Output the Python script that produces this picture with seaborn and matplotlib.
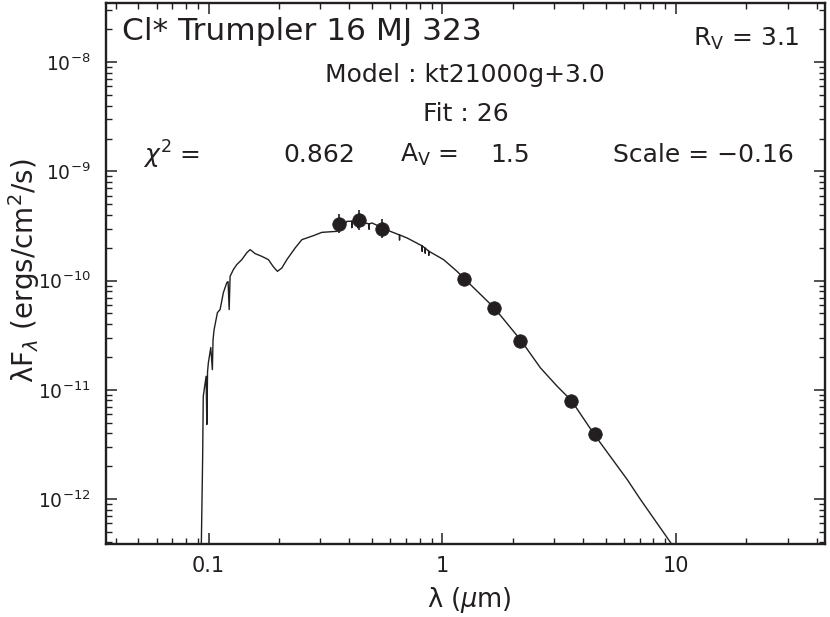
import matplotlib
matplotlib.use("Agg")
import matplotlib.pyplot as plt
import numpy as np
import pandas as pd
import seaborn as sns
from matplotlib.ticker import LogLocator, NullFormatter, FixedLocator, FixedFormatter

# ---------------- data ----------------
# model spectrum: wavelength (micron) and lambda*F_lambda (erg/cm^2/s)
model_wl = [0.0929, 0.0943, 0.0949, 0.0976, 0.0983, 0.0990, 0.0998, 0.1022,
            0.1038, 0.1045, 0.1056, 0.1091, 0.1120, 0.1157, 0.1197, 0.1212,
            0.1225, 0.1236, 0.1277, 0.1320, 0.1387, 0.1458, 0.1506, 0.1583,
            0.1690, 0.1803, 0.1895, 0.1971, 0.2059, 0.2162, 0.2347, 0.2508,
            0.2810, 0.3053, 0.3540, 0.3700, 0.3908, 0.4100, 0.4102, 0.4104,
            0.4340, 0.4342, 0.4344, 0.4453, 0.4860, 0.4862, 0.4864, 0.5000,
            0.5988, 0.6560, 0.6562, 0.6564, 0.7061, 0.8200, 0.8202, 0.8204,
            0.8450, 0.8452, 0.8454, 0.8601, 0.8750, 0.8752, 0.8754, 1.013,
            1.156, 1.242, 1.669, 2.173, 2.629, 3.100, 3.569, 4.491, 6.182,
            7.047, 9.472, 10.44]
model_flux = [2.8e-13, 2.30e-12, 8.73e-12, 1.33e-11, 4.81e-12, 1.47e-11,
              1.77e-11, 2.44e-11, 1.53e-11, 2.88e-11, 3.56e-11, 5.09e-11,
              5.43e-11, 7.77e-11, 9.59e-11, 9.79e-11, 5.43e-11, 1.094e-10,
              1.262e-10, 1.401e-10, 1.556e-10, 1.803e-10, 1.923e-10,
              1.766e-10, 1.668e-10, 1.556e-10, 1.335e-10, 1.216e-10,
              1.306e-10, 1.556e-10, 1.992e-10, 2.372e-10, 2.581e-10,
              2.767e-10, 2.827e-10, 2.95e-10, 3.49e-10, 3.50e-10, 3.05e-10,
              3.50e-10, 3.49e-10, 3.05e-10, 3.49e-10, 3.49e-10, 3.30e-10,
              2.95e-10, 3.30e-10, 3.374e-10, 2.827e-10, 2.62e-10, 2.35e-10,
              2.62e-10, 2.46e-10, 2.08e-10, 1.85e-10, 2.08e-10, 1.98e-10,
              1.78e-10, 1.98e-10, 1.92e-10, 1.86e-10, 1.70e-10, 1.86e-10,
              1.556e-10, 1.216e-10, 1.043e-10, 5.63e-11, 2.825e-11, 1.589e-11,
              1.078e-11, 7.97e-12, 3.84e-12, 1.508e-12, 9.89e-13, 4.0e-13,
              2.8e-13]

# photometry
phot_wl = [0.361, 0.439, 0.551, 1.236, 1.661, 2.146, 3.554, 4.505]
phot_flux = [3.33e-10, 3.60e-10, 3.00e-10, 1.04e-10, 5.66e-11, 2.82e-11,
             7.97e-12, 3.90e-12]
phot_err_dex = [0.09, 0.09, 0.09, 0.0, 0.0, 0.0, 0.0, 0.0]

x_ticks = [0.1, 1, 10]
x_tick_labels = ["0.1", "1", "10"]

# ---------------- figure ----------------
sns.set_theme(style="ticks")
plt.rcParams['font.family'] = ['DejaVu Sans']
plt.rcParams['mathtext.fontset'] = 'dejavusans'

ink = "#231f20"
W, H = 830, 617
fig = plt.figure(figsize=(W / 100, H / 100), dpi=100)
fig.patch.set_facecolor("white")
ax = fig.add_axes([106 / W, 1 - 544 / H, (825 - 106) / W, (544 - 2.7) / H])
ax.set_facecolor("white")
ax.set_xscale("log")
ax.set_yscale("log")

model_df = pd.DataFrame({"wl": model_wl, "flux": model_flux})
sns.lineplot(data=model_df, x="wl", y="flux", sort=False, estimator=None,
             color=ink, lw=1.0, ax=ax)

pf = np.array(phot_flux)
pe = np.array(phot_err_dex)
mask = pe > 0
lo = pf[mask] - pf[mask] / 10 ** pe[mask]
hi = pf[mask] * 10 ** pe[mask] - pf[mask]
ax.errorbar(np.array(phot_wl)[mask], pf[mask], yerr=[lo, hi], fmt="none",
            ecolor=ink, elinewidth=1.2, capsize=0, zorder=4)

phot_df = pd.DataFrame({"wl": phot_wl, "flux": phot_flux})
sns.scatterplot(data=phot_df, x="wl", y="flux", s=95, color=ink,
                edgecolor=ink, linewidth=0.5, zorder=5, ax=ax, legend=False)

ax.set_xlim(0.0364, 43.4)
ax.set_ylim(3.87e-13, 3.51e-8)

ax.xaxis.set_major_locator(FixedLocator(x_ticks))
ax.xaxis.set_major_formatter(FixedFormatter(x_tick_labels))
ax.xaxis.set_minor_locator(LogLocator(base=10, subs=np.arange(2, 10), numticks=20))
ax.xaxis.set_minor_formatter(NullFormatter())
ax.yaxis.set_major_locator(LogLocator(base=10, numticks=20))
ax.yaxis.set_minor_locator(LogLocator(base=10, subs=np.arange(2, 10), numticks=20))
ax.yaxis.set_minor_formatter(NullFormatter())

ax.tick_params(which="both", direction="in", top=True, right=True,
               colors=ink, labelcolor=ink)
ax.tick_params(which="major", length=7.7, width=1.1)
ax.tick_params(axis="x", which="major", pad=8.5, labelsize=15)
ax.tick_params(axis="y", which="major", pad=11, labelsize=13.5)
ax.tick_params(which="minor", length=4.0, width=1.0)
for sp in ax.spines.values():
    sp.set_linewidth(1.7)
    sp.set_color(ink)

ax.set_xlabel("")
ax.set_ylabel("")
fig.text(469 / W, 1 - 600 / H, r"λ ($\mu$m)", ha="center", va="center",
         fontsize=18.5, color=ink)
fig.text(24 / W, 1 - 271 / H, r"λF$_\lambda$ (ergs/cm$^2$/s)", ha="center",
         va="center", rotation=90, fontsize=20, color=ink)


def ptext(x, y, s, ha="left", size=18):
    fig.text(x / W, 1 - y / H, s, ha=ha, va="center", fontsize=size, color=ink)


ptext(122, 32, "Cl* Trumpler 16 MJ 323", size=22.5)
ptext(800, 39, r"R$_\mathrm{V}$ = 3.1", ha="right")
ptext(465, 75, "Model : kt21000g+3.0", ha="center")
ptext(466, 114, "Fit : 26", ha="center")
ptext(143, 155, r"$\chi^2$ =")
ptext(283, 155, "0.862")
ptext(400, 155, r"A$_\mathrm{V}$ =")
ptext(490, 155, "1.5")
ptext(794, 155, "Scale = −0.16", ha="right")

fig.savefig("out.png", dpi=100, facecolor="white")
